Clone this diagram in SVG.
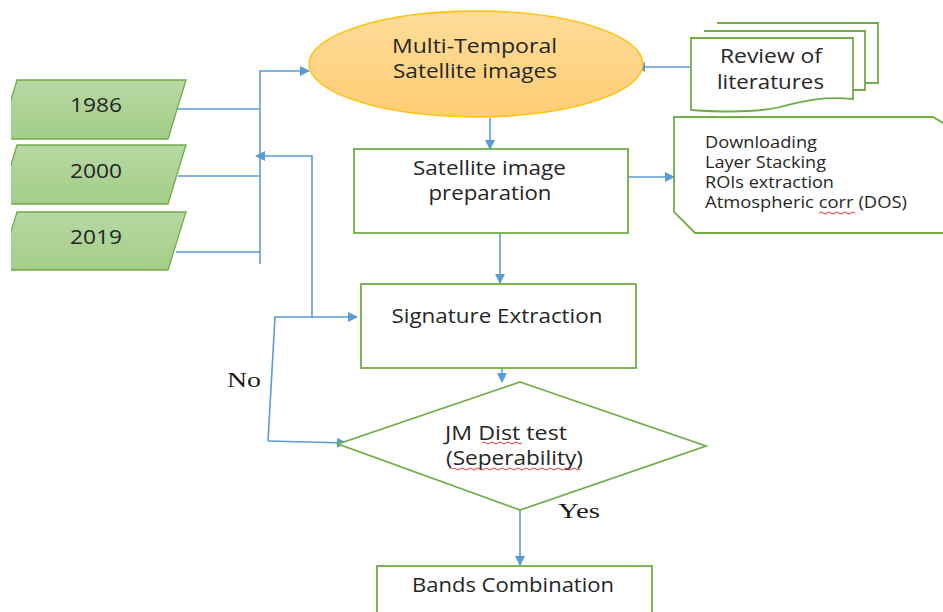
<svg xmlns="http://www.w3.org/2000/svg" width="943" height="612" viewBox="0 0 943 612">
<style>
.box{fill:#fff;stroke:#70ad47;stroke-width:1.8}
.para{fill:url(#gg);stroke:#70ad47;stroke-width:1.3}
.t{font-family:"Open Sans","Liberation Sans",sans-serif;font-size:20px;fill:#262626;text-anchor:middle}
.s{font-family:"Open Sans","Liberation Sans",sans-serif;font-size:15.5px;fill:#262626}
.lab{font-family:"Liberation Serif",serif;font-size:22px;fill:#1a1a1a}
.c{fill:none;stroke:#5b9bd5;stroke-width:1.6}
.w{fill:none;stroke:#e02020;stroke-width:0.9}
</style>
<defs>
<linearGradient id="gg" x1="0" y1="0" x2="0" y2="1"><stop offset="0" stop-color="#b7d8a3"/><stop offset="1" stop-color="#a3cd88"/></linearGradient>
<linearGradient id="og" x1="0" y1="0" x2="0" y2="1"><stop offset="0" stop-color="#ffdc9a"/><stop offset="1" stop-color="#ffcd74"/></linearGradient>
<marker id="ar" viewBox="0 0 10 10" refX="9" refY="5" markerWidth="10" markerHeight="10" markerUnits="userSpaceOnUse" orient="auto"><path d="M0,0 L10,5 L0,10 z" fill="#5b9bd5"/></marker>
<clipPath id="cl"><rect x="11" y="0" width="932" height="612"/></clipPath>
</defs>
<rect width="943" height="612" fill="#fff"/>
<g id="connectors">
<path class="c" d="M177,109 H259 M178,176 H260 M176,252 H260 M260,264 V71 H309" marker-end="url(#ar)"/>
<path class="c" d="M312,318 V156 H256" marker-end="url(#ar)"/>
<path class="c" d="M268,441 L275,317 H357" marker-end="url(#ar)"/>
<path class="c" d="M268,441 L346,443" marker-end="url(#ar)"/>
<path class="c" d="M690,67 H636" marker-end="url(#ar)"/>
<path class="c" d="M490,118 V149" marker-end="url(#ar)"/>
<path class="c" d="M628,177 H674" marker-end="url(#ar)"/>
<path class="c" d="M500,233 V283" marker-end="url(#ar)"/>
<path class="c" d="M502,368 V382" marker-end="url(#ar)"/>
<path class="c" d="M520,510 V565" marker-end="url(#ar)"/>
</g>
<g id="n1986" clip-path="url(#cl)"><polygon class="para" points="17,80 186,80 168,139 -1,139"/><text class="t" x="96" y="112" textLength="52" lengthAdjust="spacingAndGlyphs">1986</text></g>
<g id="n2000" clip-path="url(#cl)"><polygon class="para" points="17,145 186,145 168,204 -1,204"/><text class="t" x="96" y="178" textLength="52" lengthAdjust="spacingAndGlyphs">2000</text></g>
<g id="n2019" clip-path="url(#cl)"><polygon class="para" points="17,212 186,212 168,270 -1,270"/><text class="t" x="96" y="244" textLength="52" lengthAdjust="spacingAndGlyphs">2019</text></g>
<g id="multitemporal"><ellipse cx="476" cy="64" rx="167" ry="53" fill="url(#og)" stroke="#ffc000" stroke-width="1.3"/><text class="t" x="474.5" y="53" textLength="165" lengthAdjust="spacingAndGlyphs">Multi-Temporal</text><text class="t" x="475" y="78" textLength="164" lengthAdjust="spacingAndGlyphs">Satellite images</text></g>
<g id="review">
<path class="box" d="M717,23 H878 V83 H865"/>
<path class="box" d="M704,31 H865 V90 H853"/>
<path class="box" d="M691,38 H853 V99 C820,96 800,102 780,107 C755,113 720,112 691,110 Z"/>
<text class="t" x="771" y="63" textLength="102" lengthAdjust="spacingAndGlyphs">Review of</text><text class="t" x="770.5" y="89" textLength="107" lengthAdjust="spacingAndGlyphs">literatures</text></g>
<g id="prep"><rect class="box" x="354" y="149" width="274" height="84"/><text class="t" x="489.5" y="175" textLength="153" lengthAdjust="spacingAndGlyphs">Satellite image</text><text class="t" x="490" y="200" textLength="123" lengthAdjust="spacingAndGlyphs">preparation</text></g>
<g id="steps"><path class="box" d="M950,233 H695 L674,212 V117 H933 L950,127"/>
<text class="s" x="705" y="148" textLength="112" lengthAdjust="spacingAndGlyphs">Downloading</text><text class="s" x="705" y="168" textLength="121" lengthAdjust="spacingAndGlyphs">Layer Stacking</text><text class="s" x="705" y="188" textLength="129" lengthAdjust="spacingAndGlyphs">ROIs extraction</text><text class="s" x="705" y="208" textLength="202" lengthAdjust="spacingAndGlyphs">Atmospheric corr (DOS)</text>
<path class="w" d="M819,213 q2,-2 4,0 t4,0 t4,0 t4,0 t4,0 t4,0 t4,0 t4,0 t4,0"/></g>
<g id="signature"><rect class="box" x="361" y="284" width="275" height="84"/><text class="t" x="497" y="323" textLength="211" lengthAdjust="spacingAndGlyphs">Signature Extraction</text></g>
<g id="jm"><polygon class="box" points="520,382 706,446 520,510 338,444"/><text class="t" x="506" y="440" textLength="122" lengthAdjust="spacingAndGlyphs">JM Dist test</text><text class="t" x="514.5" y="465" textLength="137" lengthAdjust="spacingAndGlyphs">(Seperability)</text>
<path class="w" d="M482,443 q2,-2 4,0 t4,0 t4,0 t4,0 t4,0 t4,0 t4,0 t4,0 t4,0 t4,0 M452,469 q2,-2 4,0 t4,0 t4,0 t4,0 t4,0 t4,0 t4,0 t4,0 t4,0 t4,0 t4,0 t4,0 t4,0 t4,0 t4,0 t4,0 t4,0 t4,0 t4,0 t4,0 t4,0 t4,0 t4,0 t4,0 t4,0 t4,0 t4,0 t4,0 t4,0 t4,0 t4,0 t4,0"/></g>
<g id="bands"><rect class="box" x="377" y="566" width="275" height="60"/><text class="t" x="513" y="592" textLength="202" lengthAdjust="spacingAndGlyphs">Bands Combination</text></g>
<text class="lab" x="227" y="387" textLength="34" lengthAdjust="spacingAndGlyphs">No</text>
<text class="lab" x="558" y="518" textLength="42" lengthAdjust="spacingAndGlyphs">Yes</text>
</svg>
